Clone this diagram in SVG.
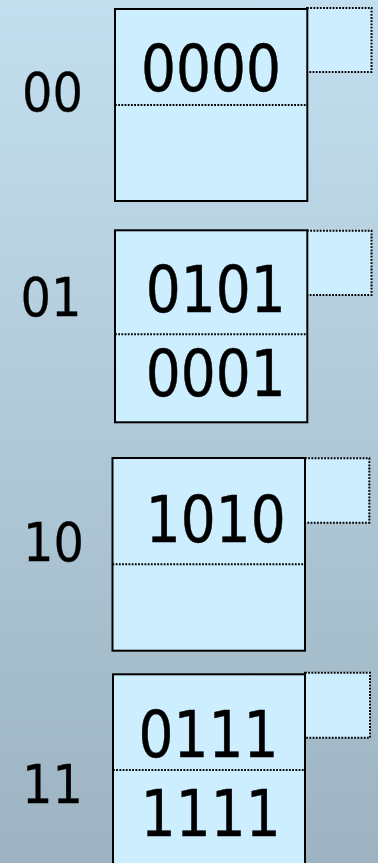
<svg xmlns="http://www.w3.org/2000/svg" width="378" height="863" viewBox="0 0 378 863">
<defs>
<linearGradient id="bg" x1="0" y1="0" x2="0" y2="1">
<stop offset="0" stop-color="#c3dfef"/>
<stop offset="1" stop-color="#9db3c1"/>
</linearGradient>
<style>
.box{fill:#cdeeff;stroke:#000;stroke-width:2}
.ovf{fill:#cdeeff;stroke:#000;stroke-width:2;stroke-dasharray:1.8 1.4}
.div{stroke:#000;stroke-width:2;stroke-dasharray:1.8 1.4;fill:none}
.big{font-family:"DejaVu Sans",Verdana,sans-serif;font-size:64px;fill:#000;stroke:#000;stroke-width:0.5;text-anchor:middle}
.lbl{font-family:"DejaVu Sans",Verdana,sans-serif;font-size:54px;fill:#000;stroke:#000;stroke-width:0.3;text-anchor:middle}
</style>
</defs>
<rect x="0" y="0" width="378" height="863" fill="url(#bg)"/>

<g id="bucket00">
<rect class="ovf" x="307" y="8" width="64.5" height="64"/>
<rect class="box" x="115" y="9" width="192.3" height="192"/>
<line class="div" x1="115" y1="105" x2="307" y2="105"/>
<text class="big" x="211" y="91" textLength="140" lengthAdjust="spacingAndGlyphs">0000</text>
<text class="lbl" x="52.5" y="110.7" textLength="61" lengthAdjust="spacingAndGlyphs">00</text>
</g>

<g id="bucket01">
<rect class="ovf" x="307" y="230.7" width="64.5" height="64.3"/>
<rect class="box" x="115" y="230.3" width="192.3" height="192"/>
<line class="div" x1="115" y1="334.3" x2="307" y2="334.3"/>
<text class="big" x="215.8" y="311.7" textLength="140" lengthAdjust="spacingAndGlyphs">0101</text>
<text class="big" x="215.8" y="395.7" textLength="140" lengthAdjust="spacingAndGlyphs">0001</text>
<text class="lbl" x="51" y="316" textLength="61" lengthAdjust="spacingAndGlyphs">01</text>
</g>

<g id="bucket10">
<rect class="ovf" x="305" y="458.3" width="64.3" height="64.4"/>
<rect class="box" x="112.5" y="458" width="192.5" height="192.7"/>
<line class="div" x1="112.5" y1="564.3" x2="305" y2="564.3"/>
<text class="big" x="215.8" y="541.7" textLength="140" lengthAdjust="spacingAndGlyphs">1010</text>
<text class="lbl" x="53.5" y="560.7" textLength="61" lengthAdjust="spacingAndGlyphs">10</text>
</g>

<g id="bucket11">
<rect class="ovf" x="305" y="672.7" width="65" height="65"/>
<rect class="box" x="113" y="674.3" width="192" height="200"/>
<line class="div" x1="113" y1="770" x2="305" y2="770"/>
<text class="big" x="208.4" y="756.7" textLength="140" lengthAdjust="spacingAndGlyphs">0111</text>
<text class="big" x="210.8" y="836" textLength="140" lengthAdjust="spacingAndGlyphs">1111</text>
<text class="lbl" x="52.5" y="802.7" textLength="61" lengthAdjust="spacingAndGlyphs">11</text>
</g>
</svg>
